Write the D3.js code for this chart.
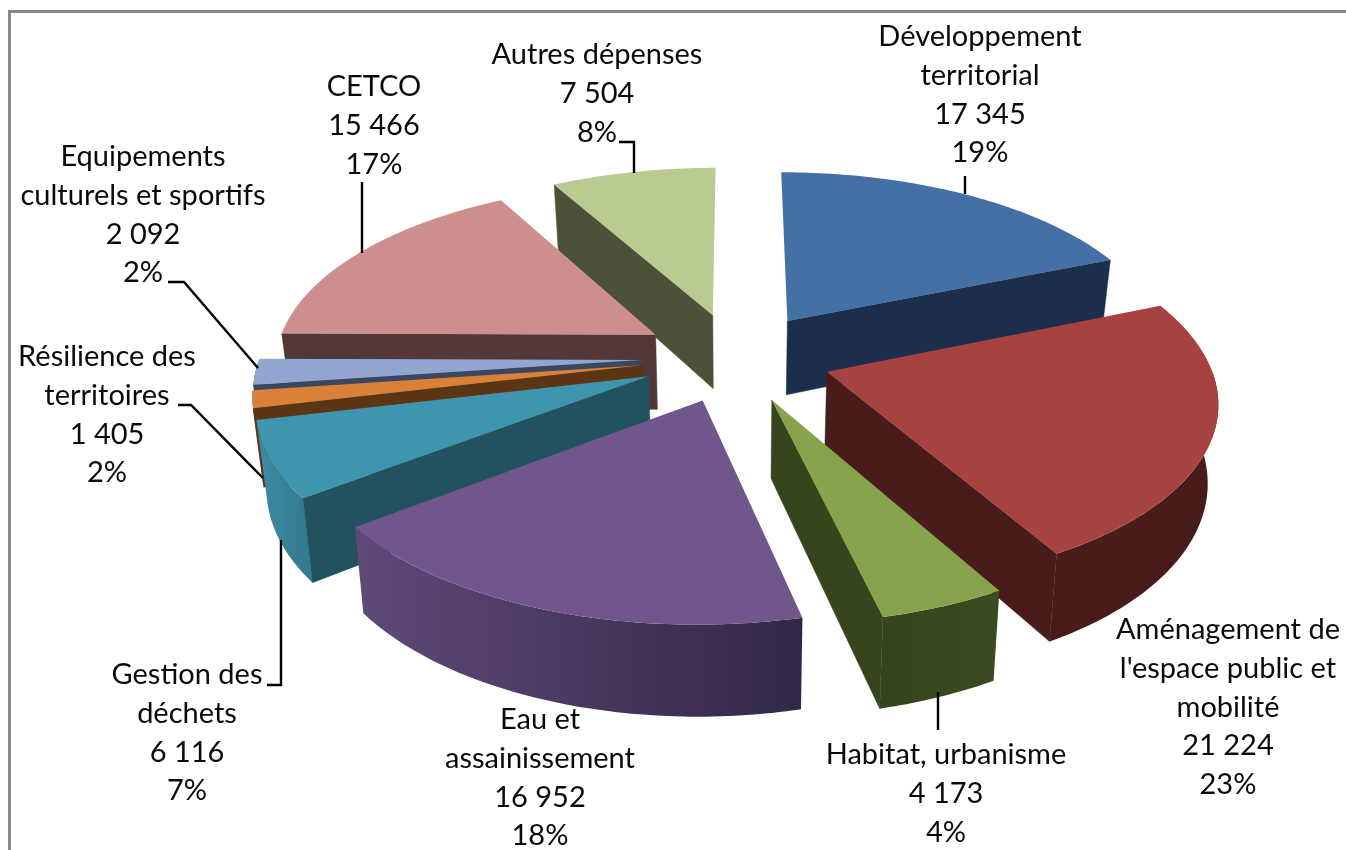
<!DOCTYPE html>
<html><head><meta charset="utf-8">
<script src="https://cdn.jsdelivr.net/npm/d3@7/dist/d3.min.js"></script>
<style>html,body{margin:0;padding:0;background:#fff;overflow:hidden}svg{display:block;filter:blur(0.45px)}</style>
</head><body><svg id="c" width="1346" height="850"></svg>
<script>
const names = [["Développement","territorial"],["Aménagement de","l'espace public et","mobilité"],["Habitat, urbanisme"],["Eau et","assainissement"],["Gestion des","déchets"],["Résilience des","territoires"],["Equipements","culturels et sportifs"],["CETCO"],["Autres dépenses"]];
const values = [17345,21224,4173,16952,6116,1405,2092,15466,7504];
const valueLabels = ["17 345","21 224","4 173","16 952","6 116","1 405","2 092","15 466","7 504"];
const percents = ["19%","23%","4%","18%","7%","2%","2%","17%","8%"];

// styles
const topColors  = ["#4570a6","#a64240","#87a34c","#71568b","#3f94ae","#d98138","#92a7cf","#cd8f8d","#b9cb91"];
const sideColors = ["#1b2f4c","#481c1b","#37451d","#3d3150","#225260","#5c3514","#3b4660","#523838","#4c5238"];
const arcFrom    = ["#1b2f4c","#481c1b","#37451d","#5f4a7a","#3c8ca4","#5c3514","#3b4660","#523838","#4c5238"];
const arcTo      = ["#1b2f4c","#481c1b","#3b4a20","#322746","#347c90","#5c3514","#3b4660","#523838","#4c5238"];
const drawOrder  = [8,0,7,6,5,4,1,2,3];

// label layout: centre x, first baseline; leader polyline
const labelX = [980,1228,946,540,187,107,143,374,597];
const labelY = [46,639,764,729,684,366,166,96,64];
const leaders = [
  [[965,176],[965,194]],
  [],
  [[938,692],[938,730]],
  [],
  [[267,685],[281,685],[281,540]],
  [[178,405],[191,405],[263,478]],
  [[168,282],[184,282],[258,368]],
  [[362,182],[362,253]],
  [[619,142],[634,142],[634,173]]
];

// projection of the tilted pie
const cx=736, cy=357, R=381, tilt=0.47, persp=0.00037, explode=95, depth=76, taper=0.022, lineH=38.8;
const W = v => 1/(1+persp*v);
const topPt = (u,v) => [cx+u*W(v), cy-tilt*v*W(v)];
const bottomPt = (u,v) => { const p=topPt(u,v); return [cx+(p[0]-cx)*(1-taper), p[1]+depth*W(v)]; };

const svg = d3.select("#c");
const defs = svg.append("defs");
// frame
svg.append("path").attr("d","M1346,11.5H9.5V850").attr("fill","none").attr("stroke","#888").attr("stroke-width",3);

const pie = d3.pie().sort(null).value(d=>d)(values);
const line = d3.line();
const g = svg.append("g");

drawOrder.forEach(i=>{
  const s = pie[i], mid=(s.startAngle+s.endAngle)/2;
  const ou = explode*Math.sin(mid), ov = explode*Math.cos(mid);
  const rim = a => [ou+R*Math.sin(a), ov+R*Math.cos(a)];
  const sample = (a0,a1) => { const n=Math.max(2,Math.ceil((a1-a0)*60)); return d3.range(n+1).map(k=>a0+(a1-a0)*k/n); };
  // outer wall
  const a0=Math.max(s.startAngle,Math.PI/2), a1=Math.min(s.endAngle,3*Math.PI/2);
  if(a1>a0){
    const angs=sample(a0,a1);
    const upper=angs.map(a=>topPt(...rim(a)));
    const lower=angs.map(a=>bottomPt(...rim(a))).reverse();
    const xs=upper.map(p=>p[0]);
    const id="wall"+i;
    const gr=defs.append("linearGradient").attr("id",id).attr("gradientUnits","userSpaceOnUse")
      .attr("x1",d3.min(xs)).attr("x2",d3.max(xs)).attr("y1",0).attr("y2",0);
    gr.append("stop").attr("offset",0).attr("stop-color",arcFrom[i]);
    gr.append("stop").attr("offset",1).attr("stop-color",arcTo[i]);
    g.append("path").attr("d",line(upper.concat(lower))+"Z").attr("fill",`url(#${id})`);
  }
  // radial walls
  [[s.startAngle,Math.sin(s.startAngle)<0],[s.endAngle,Math.sin(s.endAngle)>0]].forEach(([a,vis])=>{
    if(!vis) return;
    const q=[topPt(ou,ov),topPt(...rim(a)),bottomPt(...rim(a)),bottomPt(ou,ov)];
    g.append("path").attr("d",line(q)+"Z").attr("fill",sideColors[i]).attr("stroke",sideColors[i]).attr("stroke-width",0.5);
  });
  // top face
  const face=[topPt(ou,ov)].concat(sample(s.startAngle,s.endAngle).map(a=>topPt(...rim(a))));
  g.append("path").attr("d",line(face)+"Z").attr("fill",topColors[i]);
});

// leaders
leaders.forEach(l=>{ if(l.length) svg.append("path").attr("d",line(l)).attr("fill","none").attr("stroke","#000").attr("stroke-width",2.4); });

// labels
names.forEach((n,i)=>{
  const rows=n.concat([valueLabels[i],percents[i]]);
  const t=svg.append("text").attr("text-anchor","middle").attr("font-family","Lato, Carlito, sans-serif").attr("font-size",29).attr("fill","#0a0a0a");
  rows.forEach((r,k)=>t.append("tspan").attr("x",labelX[i]).attr("y",labelY[i]+k*lineH).text(r));
});
</script></body></html>
